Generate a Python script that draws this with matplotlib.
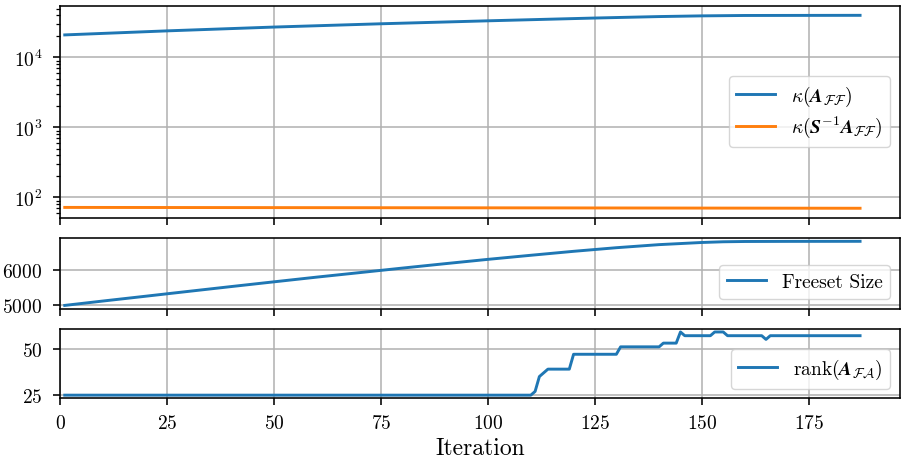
import numpy as np
import matplotlib
matplotlib.use("Agg")
import matplotlib.pyplot as plt

plt.rcParams['font.family'] = 'serif'
plt.rcParams['font.serif'] = ['cmr10']
plt.rcParams['mathtext.fontset'] = 'cm'
plt.rcParams['axes.formatter.use_mathtext'] = True
plt.rcParams['axes.unicode_minus'] = False
plt.rcParams['font.size'] = 14
plt.rcParams['lines.linewidth'] = 2.1
plt.rcParams['axes.linewidth'] = 1.15
plt.rcParams['grid.linewidth'] = 1.1
for a in ('xtick', 'ytick'):
    plt.rcParams[a + '.major.size'] = 5
    plt.rcParams[a + '.major.width'] = 1.15
    plt.rcParams[a + '.minor.size'] = 2.8
    plt.rcParams[a + '.minor.width'] = 0.9
plt.rcParams['xtick.major.pad'] = 6.5
plt.rcParams['ytick.major.pad'] = 8

# condition numbers
kappa_iter = [1, 25, 50, 75, 100, 125, 140, 150, 160, 187]
kappa_A = [21000, 24000, 27200, 30300, 33400, 36600, 38400, 39300, 39800, 40000]
kappa_pre_iter = [1, 100, 187]
kappa_pre = [72, 71, 70]

# freeset size
free_iter = [1, 10, 20, 30, 40, 50, 60, 70, 80, 90, 100, 110, 120, 130,
             140, 150, 155, 160, 170, 180, 187]
free_size = [5000, 5125, 5261, 5398, 5534, 5668, 5801, 5928, 6056, 6181,
             6303, 6418, 6530, 6632, 6719, 6780, 6800, 6808, 6811, 6812, 6813]

# rank, stored as runs of (value, number of iterations), starting at iteration 1
rank_vals = [25, 27, 35, 37, 39, 47, 51, 53, 59, 57, 59, 57, 55, 57]
rank_runs = [110, 1, 1, 1, 6, 11, 10, 4, 1, 7, 3, 9, 1, 22]
rank = np.repeat(rank_vals, rank_runs)
rank_iter = np.arange(1, len(rank) + 1)

blue = '#1f77b4'
orange = '#ff7f0e'

fig = plt.figure(figsize=(9.08, 4.64), dpi=100)
gs = fig.add_gridspec(3, 1, height_ratios=[211.6, 70.3, 69.3], left=0.0666,
                      right=0.991, top=0.9856, bottom=0.1394, hspace=0.172)
ax1 = fig.add_subplot(gs[0])
ax2 = fig.add_subplot(gs[1], sharex=ax1)
ax3 = fig.add_subplot(gs[2], sharex=ax1)

ax1.semilogy(kappa_iter, kappa_A, color=blue,
             label=r'$\kappa(\mathbfit{A}_{\mathcal{F}\mathcal{F}})$')
ax1.semilogy(kappa_pre_iter, kappa_pre, color=orange,
             label=r'$\kappa(\mathbfit{S}^{-1}\mathbfit{A}_{\mathcal{F}\mathcal{F}})$')
ax1.legend(loc='center right', labelspacing=0.3)

ax2.plot(free_iter, free_size, color=blue, label='Freeset Size')
ax2.set_yticks([5000, 6000])
ax2.legend(loc='lower right')

ax3.plot(rank_iter, rank, color=blue,
         label=r'$\mathrm{rank}(\mathbfit{A}_{\mathcal{F}\mathcal{A}})$')
ax3.set_yticks([25, 50])
ax3.legend(loc='lower right')

ax3.set_xlim(left=0)
ax3.set_xticks([0, 25, 50, 75, 100, 125, 150, 175])
ax3.set_xlabel('Iteration', fontsize=17, labelpad=3)

for ax in (ax1, ax2, ax3):
    ax.grid(True)
for ax in (ax1, ax2):
    plt.setp(ax.get_xticklabels(), visible=False)

fig.savefig('out.png', dpi=100)
